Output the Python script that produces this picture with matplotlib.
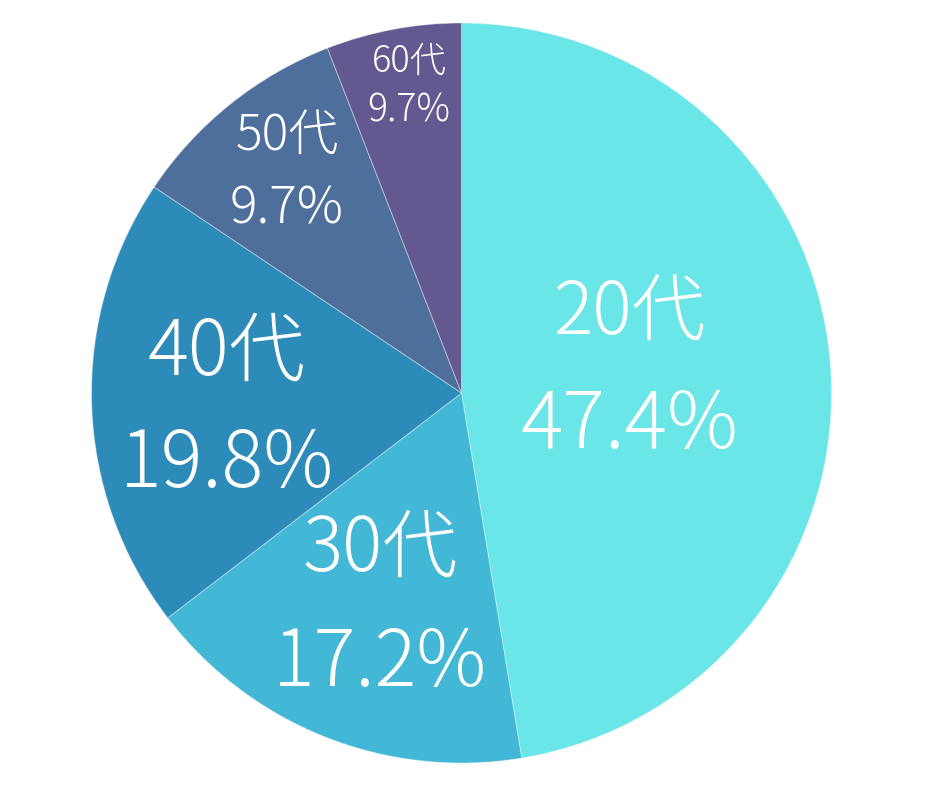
import matplotlib
matplotlib.use("Agg")
import matplotlib.pyplot as plt

plt.rcParams["font.family"] = ["Noto Sans CJK JP", "DejaVu Sans"]

# 年代別の割合(扇形の大きさ)
categories = ["20代", "30代", "40代", "50代", "60代"]
shares = [47.4, 17.2, 19.8, 9.7, 5.9]
# 図に書かれている表示ラベル(60代は元図のまま 9.7%)
share_labels = ["47.4%", "17.2%", "19.8%", "9.7%", "9.7%"]

colors = ["#6ae5e8", "#42b7d6", "#2d8bba", "#4e6e9b", "#63588f"]
label_pos = [(0.455, 0.062), (-0.22, -0.578), (-0.635, -0.043), (-0.472, 0.594), (-0.142, 0.83)]
cat_size = [53, 54, 55, 36, 26]
pct_size = [57, 56, 56, 37, 27]
line_gap = [0.152, 0.155, 0.152, 0.097, 0.067]

W, H = 940, 788
cx, cy, r = 461.5, 393, 370

fig = plt.figure(figsize=(W / 100, H / 100), dpi=100)
ax = fig.add_axes([(cx - r) / W, (H - cy - r) / H, 2 * r / W, 2 * r / H])
ax.pie(
    shares,
    colors=colors,
    startangle=90,
    counterclock=False,
    radius=1,
    wedgeprops=dict(edgecolor="#ffffff55", linewidth=0.8),
)
ax.set_xlim(-1, 1)
ax.set_ylim(-1, 1)
ax.set_aspect("equal")
ax.axis("off")

for cat, lab, (x, y), fc, fp, gap in zip(categories, share_labels, label_pos, cat_size, pct_size, line_gap):
    ax.text(x, y + gap, cat, ha="center", va="center", color="white", fontsize=fc, fontweight="light")
    ax.text(x, y - gap, lab, ha="center", va="center", color="white", fontsize=fp, fontweight="light")

fig.savefig("out.png", dpi=100)
